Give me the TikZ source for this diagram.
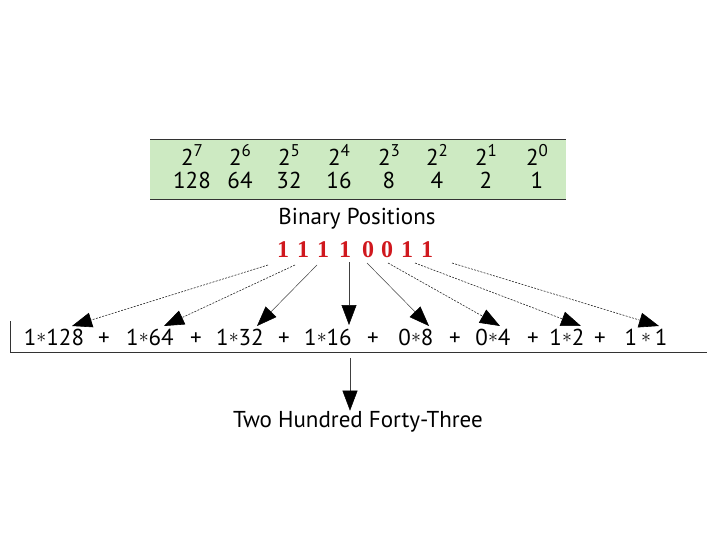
\documentclass[tikz,border=0pt]{standalone}
\usepackage{fontspec}
\setmainfont{PT Sans}
\newfontfamily\redserif{Liberation Serif}
\usetikzlibrary{arrows.meta}
\definecolor{tablegreen}{RGB}{205,234,194}
\definecolor{binred}{RGB}{208,24,30}
\newcommand{\pw}[1]{2\raisebox{0.40em}{\fontsize{17}{17}\selectfont #1}}
\newcommand{\myast}{\raisebox{2.5pt}{\scalebox{0.8}{$\ast$}}}
\newcommand{\tm}[2]{#1\myast#2}
\tikzset{
  txt/.style={inner sep=0pt, anchor=base, font=\fontsize{23}{25}\selectfont},
  bit/.style={inner sep=0pt, anchor=base, text=binred, font=\redserif\bfseries\fontsize{24}{26}\selectfont},
  dashedarrow/.style={draw=black!85, line width=0.6pt, dash pattern=on 2pt off 1.3pt, -{Triangle[length=20pt,width=15pt,color=black]}},
  solidarrow/.style={draw=black!75, line width=0.5pt, -{Triangle[length=20pt,width=15pt,color=black]}},
  rule/.style={draw=black!80, line width=0.9pt}
}
\begin{document}
\begin{tikzpicture}[x=1pt,y=-1pt]
\useasboundingbox (0,0) rectangle (720,540);
% table
\fill[tablegreen] (150,139) rectangle (566,199);
\draw[rule] (150,139) -- (566,139);
\draw[rule] (150,199) -- (566,199);
\foreach \n/\x/\e/\v in {7/192/7/128, 6/240/6/64, 5/289/5/32, 4/339/4/16, 3/389/3/8, 2/437/2/4, 1/486/1/2, 0/537/0/1}{
  \node[txt] (p\n) at (\x,166) {\pw{\e}};
  \node[txt] (v\n) at (\x,189) {\v};
}
\node[txt] (title) at (357,225) {Binary Positions};
% bits
\foreach \i/\x/\b in {1/283/1, 2/303/1, 3/323/1, 4/345/1, 5/368/0, 6/387/0, 7/407/1, 8/427/1}{
  \node[bit] (b\i) at (\x,258) {\b};
}
% terms
\node[txt] (t1) at (54,345) {\tm{1}{128}};
\node[txt] (pl1) at (104,345) {+};
\node[txt] (t2) at (150,345) {\tm{1}{64}};
\node[txt] (pl2) at (196,345) {+};
\node[txt] (t3) at (240,345) {\tm{1}{32}};
\node[txt] (pl3) at (284,345) {+};
\node[txt] (t4) at (328,345) {\tm{1}{16}};
\node[txt] (pl4) at (373,345) {+};
\node[txt] (t5) at (416,345) {\tm{0}{8}};
\node[txt] (pl5) at (455,345) {+};
\node[txt] (t6) at (493,345) {\tm{0}{4}};
\node[txt] (pl6) at (533,345) {+};
\node[txt] (t7) at (567,345) {\tm{1}{2}};
\node[txt] (pl7) at (600,345) {+};
\node[txt] (t8) at (646,345) {1\,\myast\,1};
% rules
\coordinate (vl1) at (10,321);
\coordinate (vl2) at (10,352);
\coordinate (hl2) at (707,352);
\draw[rule] (vl1) -- (vl2) -- (hl2);
% arrow ends
\coordinate (s1) at (268,265); \coordinate (e1) at (72,326);
\coordinate (s2) at (295,265); \coordinate (e2) at (164,326);
\coordinate (s3) at (317,265); \coordinate (e3) at (257,326);
\coordinate (s4) at (349,262); \coordinate (e4) at (349,325);
\coordinate (s5) at (367,263); \coordinate (e5) at (429,326);
\coordinate (s6) at (388,263); \coordinate (e6) at (500,326);
\coordinate (s7) at (415,263); \coordinate (e7) at (581,326);
\coordinate (s8) at (452,263); \coordinate (e8) at (659,326);
\draw[dashedarrow] (s1) -- (e1);
\draw[dashedarrow] (s2) -- (e2);
\draw[solidarrow] (s3) -- (e3);
\draw[solidarrow] (s4) -- (e4);
\draw[solidarrow] (s5) -- (e5);
\draw[dashedarrow] (s6) -- (e6);
\draw[dashedarrow] (s7) -- (e7);
\draw[dashedarrow] (s8) -- (e8);
% result
\node[txt] (res) at (358,427) {Two Hundred Forty-Three};
\coordinate (rs) at (350,358);
\draw[solidarrow] (rs) -- (res.north -| rs);
\end{tikzpicture}
\end{document}
